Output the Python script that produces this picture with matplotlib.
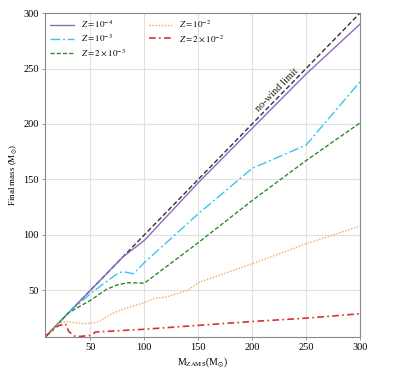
import numpy as np
import matplotlib
matplotlib.use("Agg")
import matplotlib.pyplot as plt

plt.rcParams['font.family'] = ['Liberation Serif', 'DejaVu Serif']
plt.rcParams['mathtext.fontset'] = 'stix'

# Final mass vs ZAMS mass for several metallicities
m_nowind = [8, 300]

m_z1e4 = [8, 80, 100, 150, 200, 250, 300]
f_z1e4 = [8, 80, 95, 147, 196, 245, 290]

m_z1e3 = [8, 30, 50, 65, 75, 80, 90, 100, 150, 200, 250, 300]
f_z1e3 = [8, 30, 47, 58, 65, 67, 65, 75, 119, 160, 181, 238]

m_z2e3 = [8, 30, 50, 65, 75, 85, 100, 150, 200, 250, 300]
f_z2e3 = [8, 30, 41, 51, 55, 57, 56.5, 93, 131, 167, 201]

m_z1e2 = [8, 20, 28, 35, 45, 55, 60, 70, 80, 90, 100, 110, 120, 130, 140, 150, 200, 250, 300]
f_z1e2 = [8, 20, 22, 21, 20, 21, 23, 29, 33, 36, 39, 43, 44, 47, 50, 57, 74, 92, 108]

m_z2e2 = [8, 20, 27, 30, 35, 40, 50, 55, 100, 150, 200, 250, 300]
f_z2e2 = [8, 18, 20, 13, 9, 8.5, 9.5, 12.5, 15, 18.5, 22, 25, 29]

fig = plt.figure(figsize=(4, 3.72), dpi=100)
ax = fig.add_axes([0.1125, 0.094, 0.7875, 0.871])

ax.plot(m_nowind, m_nowind, color='#333333', linestyle=(0, (3.5, 1.8)), linewidth=1.0)
ax.plot(m_z1e4, f_z1e4, color='#8e6bbf', linestyle='-', linewidth=1.0, label=r'$Z = 10^{-4}$')
ax.plot(m_z1e3, f_z1e3, color='#3cc4ee', linestyle=(0, (7, 2, 1.5, 2)), linewidth=1.0, label=r'$Z = 10^{-3}$')
ax.plot(m_z2e3, f_z2e3, color='#2e8b2e', linestyle=(0, (3, 1.5)), linewidth=1.0, label=r'$Z = 2 \times 10^{-3}$')
ax.plot(m_z1e2, f_z1e2, color='#f5a85a', linestyle=(0, (1, 1.2)), linewidth=1.0, label=r'$Z = 10^{-2}$')
ax.plot(m_z2e2, f_z2e2, color='#d93030', linestyle=(0, (4, 2, 1, 2)), linewidth=1.2, label=r'$Z = 2 \times 10^{-2}$')

ax.text(226, 228, 'no-wind limit', rotation=45.5, rotation_mode='anchor',
        ha='center', va='bottom', fontsize=7.5, color='#222222')

ax.set_xlim(8, 300)
ax.set_ylim(8, 300)
ax.set_xticks([50, 100, 150, 200, 250, 300])
ax.set_yticks([50, 100, 150, 200, 250, 300])
ax.grid(True, color='#e0e0e0', linewidth=0.8)
ax.set_axisbelow(True)
for s in ax.spines.values():
    s.set_color('#888888')
ax.tick_params(labelsize=7.5, length=2.5, width=0.6, color='#888888', pad=2)

ax.set_xlabel(r'M$_{\mathrm{ZAMS}}$(M$_{\odot}$)', fontsize=7, labelpad=2)
ax.set_ylabel(r'Final mass (M$_{\odot}$)', fontsize=6.5, labelpad=3)

ax.legend(loc='upper left', ncol=2, frameon=False, fontsize=6.5,
          handlelength=2.6, columnspacing=2.5, borderaxespad=0.2, labelspacing=0.35)

fig.savefig('out.png', dpi=100)
